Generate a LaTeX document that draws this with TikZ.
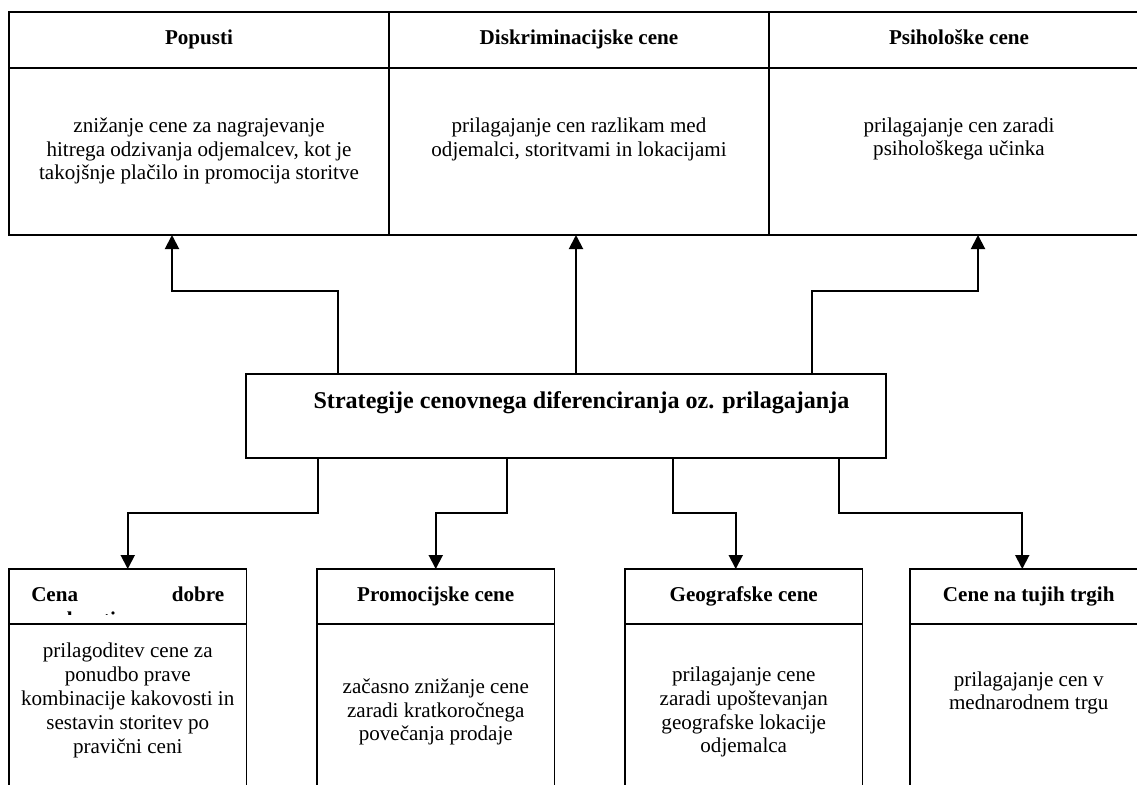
\documentclass[tikz,border=0pt]{standalone}
\usepackage{fontspec}
\setmainfont{Liberation Serif}
\usepackage{tikz}
\usetikzlibrary{positioning,arrows.meta}

\begin{document}
\fontsize{12}{13.6}\selectfont
\begin{tikzpicture}[every node/.style={outer sep=0pt},
		hd/.style={draw, line width=1.1pt, minimum width=7.6cm, minimum height=1.12cm, inner sep=0pt, text height=8pt, text depth=3.45pt, font=\bfseries},
		bd/.style={draw, line width=1.1pt, minimum width=7.6cm, minimum height=3.34cm},
		shd/.style={draw, line width=1.1pt, minimum width=4.75cm, minimum height=1.1cm, inner sep=0pt, text height=9.5pt, text depth=3.25pt, font=\bfseries},
		sbd/.style={draw, line width=1.1pt, minimum width=4.75cm, minimum height=4cm},
		txt/.style={align=center, inner sep=0pt},
		arr/.style={line width=1.1pt, -{Triangle[length=0.28cm, width=0.28cm]}}]
		\useasboundingbox (0,0) rectangle (22.74,-15.70);
		\clip (0,0) rectangle (22.74,-15.70);

		\node[hd] (popusti) at (3.98,-0.80) {Popusti};
		\node[hd, right=0cm of popusti] (diskr) {Diskriminacijske cene};
		\node[hd, right=0cm of diskr] (psiho) {Psihološke cene};
		\node[bd, below=0cm of popusti] (popustiB) {};
		\node[bd, below=0cm of diskr] (diskrB) {};
		\node[bd, below=0cm of psiho] (psihoB) {};
		\node[txt] (popustiT) at ([yshift=-1.66cm]popusti.south) {znižanje cene za nagrajevanje\\hitrega odzivanja odjemalcev, kot je\\takojšnje plačilo in promocija storitve};
		\node[txt] (diskrT) at ([yshift=-1.42cm]diskr.south) {prilagajanje cen razlikam med\\odjemalci, storitvami in lokacijami};
		\node[txt] (psihoT) at ([yshift=-1.42cm]psiho.south) {prilagajanje cen zaradi\\psihološkega učinka};

		\node[draw, line width=1.1pt, minimum width=12.8cm, minimum height=1.68cm] (strat) at (11.32,-8.32) {};
		\node[txt, font=\fontsize{13.7}{16}\selectfont\bfseries] (stratT) at ([xshift=0.31cm, yshift=0.27cm]strat.center) {Strategije cenovnega diferenciranja oz. prilagajanja};

		\node[shd] (cena) at (2.555,-11.93) {\hbox to 3.86cm{Cena\hfill dobre}};
		\node[shd, right=1.41cm of cena] (promo) {Promocijske cene};
		\node[shd, right=1.41cm of promo] (geo) {Geografske cene};
		\node[shd, right=0.95cm of geo] (tuji) {Cene na tujih trgih};
		\begin{scope}
			\clip (cena.north west) rectangle ([yshift=0.19cm]cena.south east);
			\node[anchor=base west, inner sep=0pt, font=\bfseries] (vred) at ([xshift=0.46cm, yshift=-0.04cm]cena.south west) {vrednosti};
		\end{scope}
		\node[sbd, below=0cm of cena] (cenaB) {};
		\node[sbd, below=0cm of promo] (promoB) {};
		\node[sbd, below=0cm of geo] (geoB) {};
		\node[sbd, below=0cm of tuji] (tujiB) {};
		\node[txt] (cenaT) at ([yshift=-1.53cm]cena.south) {prilagoditev cene za\\ponudbo prave\\kombinacije kakovosti in\\sestavin storitev po\\pravični ceni};
		\node[txt] (promoT) at ([yshift=-1.76cm]promo.south) {začasno znižanje cene\\zaradi kratkoročnega\\povečanja prodaje};
		\node[txt] (geoT) at ([yshift=-1.76cm]geo.south) {prilagajanje cene\\zaradi upoštevanjan\\geografske lokacije\\odjemalca};
		\node[txt] (tujiT) at ([yshift=-1.38cm]tuji.south) {prilagajanje cen v\\mednarodnem trgu};

		\draw[arr] ([xshift=-4.56cm]strat.north) -- ++(0,1.66) -| ([xshift=-0.54cm]popustiB.south);
		\draw[arr] ([xshift=0.2cm]strat.north) -- ([xshift=-0.06cm]diskrB.south);
		\draw[arr] ([xshift=4.92cm]strat.north) -- ++(0,1.66) -| ([xshift=0.38cm]psihoB.south);

		\draw[arr] ([xshift=-4.96cm]strat.south) -- ++(0,-1.1) -| (cena.north);
		\draw[arr] ([xshift=-1.18cm]strat.south) -- ++(0,-1.1) -| (promo.north);
		\draw[arr] ([xshift=2.14cm]strat.south) -- ++(0,-1.1) -| ([xshift=-0.16cm]geo.north);
		\draw[arr] ([xshift=5.46cm]strat.south) -- ++(0,-1.1) -| ([xshift=-0.13cm]tuji.north);
	\end{tikzpicture}
\end{document}
